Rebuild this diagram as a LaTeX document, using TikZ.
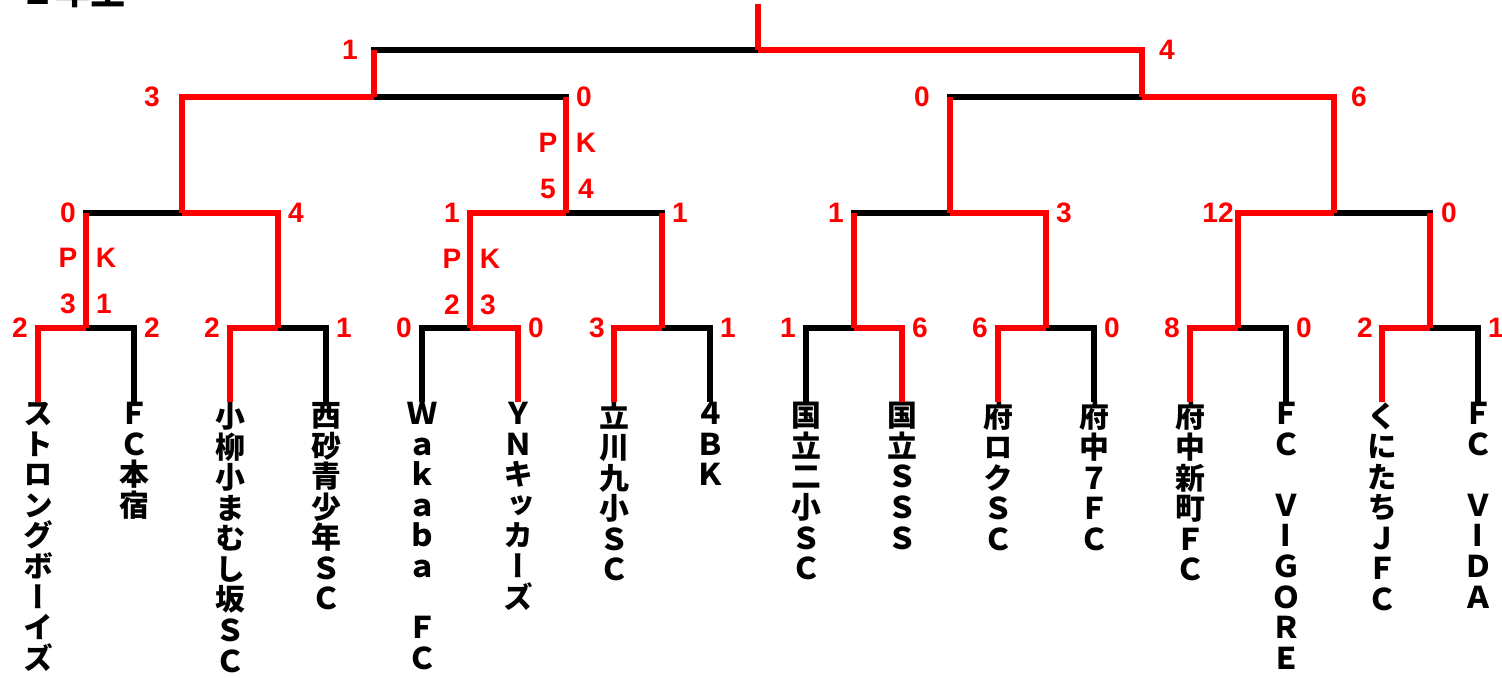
\documentclass[tikz,border=0pt]{standalone}
\usepackage{fontspec}
\setmainfont{Liberation Sans}
\newfontfamily\jpv[RawFeature=+vert]{Noto Sans CJK JP}
\newfontfamily\jp{Noto Sans CJK JP}
\definecolor{winred}{HTML}{FF0000}
\tikzset{
  win/.style={draw=winred, line width=3pt},
  lose/.style={draw=black, line width=3pt},
  score/.style={text=winred, inner sep=0pt, font=\bfseries\fontsize{16}{19}\selectfont},
  team/.style={anchor=north, align=center, inner sep=0pt, font=\jpv\bfseries\fontsize{17}{17.4}\selectfont},
}

\begin{document}
\begin{tikzpicture}[x=0.02cm, y=-0.02cm]
  \useasboundingbox (0,0) rectangle (1502,677);
  \node[anchor=base west, inner sep=0pt, font=\jp\bfseries\fontsize{20}{24}\selectfont] (title) at (20,4.5) {２年生};

  % teams
  \node[team] (t1) at (38,402) {ス\\ト\\ロ\\ン\\グ\\ボ\\ー\\イ\\ズ};
  \node[team] (t2) at (134,402) {Ｆ\\Ｃ\\本\\宿};
  \node[team] (t3) at (230,402) {小\\柳\\小\\ま\\む\\し\\坂\\Ｓ\\Ｃ};
  \node[team] (t4) at (326,402) {西\\砂\\青\\少\\年\\Ｓ\\Ｃ};
  \node[team] (t5) at (422,402) {Ｗ\\ａ\\ｋ\\ａ\\ｂ\\ａ\\　\\Ｆ\\Ｃ};
  \node[team] (t6) at (518,402) {Ｙ\\Ｎ\\キ\\ッ\\カ\\ー\\ズ};
  \node[team] (t7) at (614,402) {立\\川\\九\\小\\Ｓ\\Ｃ};
  \node[team] (t8) at (710,402) {４\\Ｂ\\Ｋ};
  \node[team] (t9) at (806,402) {国\\立\\二\\小\\Ｓ\\Ｃ};
  \node[team] (t10) at (902,402) {国\\立\\Ｓ\\Ｓ\\Ｓ};
  \node[team] (t11) at (998,402) {府\\ロ\\ク\\Ｓ\\Ｃ};
  \node[team] (t12) at (1094,402) {府\\中\\７\\Ｆ\\Ｃ};
  \node[team] (t13) at (1190,402) {府\\中\\新\\町\\Ｆ\\Ｃ};
  \node[team] (t14) at (1286,402) {Ｆ\\Ｃ\\　\\Ｖ\\I\\Ｇ\\Ｏ\\Ｒ\\Ｅ};
  \node[team] (t15) at (1382,402) {く\\に\\た\\ち\\Ｊ\\Ｆ\\Ｃ};
  \node[team] (t16) at (1478,402) {Ｆ\\Ｃ\\　\\Ｖ\\I\\Ｄ\\Ａ};

  % match points
  \coordinate (m1) at (86,328);
  \coordinate (m2) at (278,328);
  \coordinate (m3) at (470,328);
  \coordinate (m4) at (662,328);
  \coordinate (m5) at (854,328);
  \coordinate (m6) at (1046,328);
  \coordinate (m7) at (1238,328);
  \coordinate (m8) at (1430,328);
  \coordinate (q1) at (182,213);
  \coordinate (q2) at (566,213);
  \coordinate (q3) at (950,213);
  \coordinate (q4) at (1334,213);
  \coordinate (s1) at (374,97);
  \coordinate (s2) at (1142,97);
  \coordinate (f) at (758,50);
  \coordinate (top) at (758,4);

  % losers
  \draw[lose] (t2.north) |- (m1);
  \draw[lose] (t4.north) |- (m2);
  \draw[lose] (t5.north) |- (m3);
  \draw[lose] (t8.north) |- (m4);
  \draw[lose] (t9.north) |- (m5);
  \draw[lose] (t12.north) |- (m6);
  \draw[lose] (t14.north) |- (m7);
  \draw[lose] (t16.north) |- (m8);
  \draw[lose] (m1) |- (q1);
  \draw[lose] (m4) |- (q2);
  \draw[lose] (m5) |- (q3);
  \draw[lose] (m8) |- (q4);
  \draw[lose] (q2) |- (s1);
  \draw[lose] (q3) |- (s2);
  \draw[lose] (s1) |- (f);

  % winners
  \draw[win] (t1.north) |- (m1);
  \draw[win] (t3.north) |- (m2);
  \draw[win] (t6.north) |- (m3);
  \draw[win] (t7.north) |- (m4);
  \draw[win] (t10.north) |- (m5);
  \draw[win] (t11.north) |- (m6);
  \draw[win] (t13.north) |- (m7);
  \draw[win] (t15.north) |- (m8);
  \draw[win] (m2) |- (q1);
  \draw[win] (m3) |- (q2);
  \draw[win] (m6) |- (q3);
  \draw[win] (m7) |- (q4);
  \draw[win] (m1) -- (m1 |- q1);
  \draw[win] (m4) -- (m4 |- q2);
  \draw[win] (m5) -- (m5 |- q3);
  \draw[win] (m8) -- (m8 |- q4);
  \draw[win] (q1) |- (s1);
  \draw[win] (q4) |- (s2);
  \draw[win] (q2) -- (q2 |- s1);
  \draw[win] (q3) -- (q3 |- s2);
  \draw[win] (s2) |- (f);
  \draw[win] (s1) -- (s1 |- f);
  \draw[win] (f) -- (top);

  % scores
  \node[score] (m1a) at (20,328) {2};
  \node[score] (m1b) at (152,328) {2};
  \node[score] (m2a) at (212,328) {2};
  \node[score] (m2b) at (344,328) {1};
  \node[score] (m3a) at (404,328) {0};
  \node[score] (m3b) at (536,328) {0};
  \node[score] (m4a) at (597,328) {3};
  \node[score] (m4b) at (728,328) {1};
  \node[score] (m5a) at (788,328) {1};
  \node[score] (m5b) at (920,328) {6};
  \node[score] (m6a) at (980,328) {6};
  \node[score] (m6b) at (1112,328) {0};
  \node[score] (m7a) at (1172,328) {8};
  \node[score] (m7b) at (1304,328) {0};
  \node[score] (m8a) at (1365,328) {2};
  \node[score] (m8b) at (1496,328) {1};
  \node[score] (q1a) at (68,213) {0};
  \node[score] (q1b) at (296,213) {4};
  \node[score] (q2a) at (452,213) {1};
  \node[score] (q2b) at (680,213) {1};
  \node[score] (q3a) at (836,213) {1};
  \node[score] (q3b) at (1064,213) {3};
  \node[score] (q4a) at (1218,213) {12};
  \node[score] (q4b) at (1449,213) {0};
  \node[score] (s1a) at (152,97) {3};
  \node[score] (s1b) at (584,97) {0};
  \node[score] (s2a) at (922,97) {0};
  \node[score] (s2b) at (1359,97) {6};
  \node[score] (fa) at (350,50) {1};
  \node[score] (fb) at (1167,50) {4};

  % penalty kicks
  \node[score] (pk1) at (68,258) {P};
  \node[score] (pk2) at (106,258) {K};
  \node[score] (pk3) at (68,304) {3};
  \node[score] (pk4) at (104,304) {1};
  \node[score] (pk5) at (452,259) {P};
  \node[score] (pk6) at (490,259) {K};
  \node[score] (pk7) at (452,305) {2};
  \node[score] (pk8) at (488,305) {3};
  \node[score] (pk9) at (548,143) {P};
  \node[score] (pk10) at (586,143) {K};
  \node[score] (pk11) at (548,189) {5};
  \node[score] (pk12) at (586,189) {4};
\end{tikzpicture}
\end{document}
